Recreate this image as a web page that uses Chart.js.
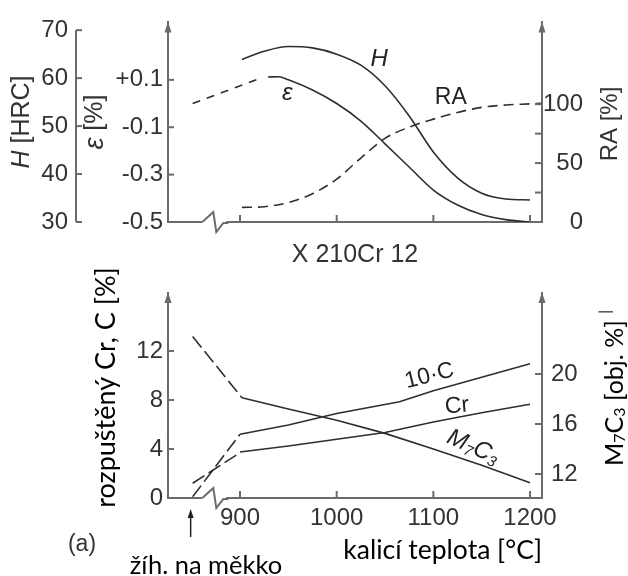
<!DOCTYPE html>
<html>
<head>
<meta charset="utf-8">
<script src="https://cdn.jsdelivr.net/npm/chart.js@4.4.0/dist/chart.umd.min.js"></script>
<style>
  html, body { margin: 0; padding: 0; background: #fff; }
  .box { position: absolute; left: 0; width: 628px; }
</style>
</head>
<body>
<div class="box" style="top:0;height:270px"><canvas id="topChart" width="628" height="270"></canvas></div>
<div class="box" style="top:260px;height:316px"><canvas id="bottomChart" width="628" height="316"></canvas></div>
<script>
// ==== Data: horni graf (X 210Cr 12) ====
const annealT = 851;          // stav "zih. na mekko" na prerusene ose
const breakT = 861;           // misto preruseni osy
const xTicks = [900, 1000, 1100, 1200];

const hTicks = [30, 40, 50, 60, 70];
const epsTicks = [-0.5, -0.3, -0.1, 0.1];
const raTicks = [0, 25, 50, 75, 100];

const hTemps = [902, 925, 950, 975, 1000, 1025, 1050, 1075, 1100, 1125, 1150, 1175, 1200];
const hValues = [63.9, 65.6, 66.6, 66.3, 65.0, 62.7, 58.4, 52.1, 44.6, 39.2, 36.0, 34.8, 34.6];

const epsDashTemps = [annealT, 922];
const epsDashValues = [0.0, 0.108];
const epsTemps = [929, 940, 950, 975, 1000, 1025, 1050, 1075, 1100, 1125, 1150, 1175, 1200];
const epsValues = [0.112, 0.113, 0.10, 0.057, 0.0, -0.074, -0.17, -0.268, -0.365, -0.428, -0.468, -0.49, -0.5];

const raTemps = [902, 925, 950, 975, 1000, 1025, 1050, 1075, 1100, 1125, 1150, 1175, 1200, 1212];
const raValues = [12.4, 13.0, 16.5, 24.0, 36.4, 54.3, 71.0, 80.5, 87.3, 93.0, 97.3, 99.3, 100.3, 100.8];

// ==== Data: dolni graf ====
const leftTicks = [0, 4, 8, 12];
const rightTicks = [12, 16, 20];

const cDashTemps = [annealT, 900];
const cDashValues = [0.1, 5.2];
const cTemps = [900, 950, 1000, 1065, 1100, 1150, 1200];
const cValues = [5.2, 5.95, 6.9, 7.85, 8.75, 9.85, 10.95];

const crDashTemps = [annealT, 900];
const crDashValues = [1.2, 3.7];
const crTemps = [900, 950, 1000, 1050, 1100, 1150, 1200];
const crValues = [3.75, 4.25, 4.8, 5.35, 6.2, 6.95, 7.65];

const mDashTemps = [annealT, 902];
const mDashValues = [23.0, 18.1];
const mTemps = [902, 950, 1000, 1050, 1100, 1150, 1200];
const mValues = [18.1, 17.2, 16.3, 15.25, 14.0, 12.7, 11.3];

// ==== Styl ====
const HELV = "'Liberation Sans', Arial, sans-serif";
const CALI = "Lato, 'Open Sans', sans-serif";
const LINE = '#2e2e2e';
const AXIS = '#6b6b6b';
const TEXT = '#333333';
const X_MIN = 825.5, X_MAX = 1212.4;

const pts = (xs, ys) => xs.map((x, i) => ({ x, y: ys[i] }));
const curve = (data, yAxisID, dash, smooth) => ({
    data, yAxisID,
    borderColor: LINE, borderWidth: 1.6, borderDash: dash || [],
    pointRadius: 0, fill: false,
    cubicInterpolationMode: smooth ? 'monotone' : 'default', tension: 0
});
const setTicks = list => s => { s.ticks = list.map(v => ({ value: v })); };
const noGrid = { display: false, drawTicks: false };

function drawRich(ctx, parts, x, y, rot) {
    let w = 0;
    parts.forEach(p => { ctx.font = p.font; p.w = ctx.measureText(p.t).width; w += p.w; });
    ctx.save();
    ctx.translate(x, y);
    ctx.rotate((rot || 0) * Math.PI / 180);
    ctx.textBaseline = 'middle';
    ctx.textAlign = 'left';
    let cx = -w / 2;
    parts.forEach(p => { ctx.font = p.font; ctx.fillText(p.t, cx, p.dy || 0); cx += p.w; });
    ctx.restore();
}

// ==== Plugin: vnitrni znacky, sipky, preruseni osy, popisky ====
const decor = {
    id: 'decor',
    afterDraw(chart, args, opts) {
        const ctx = chart.ctx;
        const area = chart.chartArea;
        const xs = chart.scales.x;
        ctx.save();
        ctx.strokeStyle = AXIS;
        ctx.fillStyle = AXIS;
        ctx.lineWidth = 2;

        // kratka osa (jen mezi krajnimi hodnotami)
        (opts.shortAxis || []).forEach(id => {
            const s = chart.scales[id];
            ctx.beginPath();
            ctx.moveTo(s.right, s.getPixelForValue(s.ticks[0].value));
            ctx.lineTo(s.right, s.getPixelForValue(s.ticks[s.ticks.length - 1].value));
            ctx.stroke();
        });

        // znacky smerem dovnitr
        (opts.inTicks || []).forEach(id => {
            const s = chart.scales[id];
            s.ticks.forEach(t => {
                const p = s.getPixelForValue(t.value);
                ctx.beginPath();
                if (s.isHorizontal()) { ctx.moveTo(p, s.top); ctx.lineTo(p, s.top - 7); }
                else if (s.position === 'left') { ctx.moveTo(s.right, p); ctx.lineTo(s.right + 6, p); }
                else { ctx.moveTo(s.left, p); ctx.lineTo(s.left - 7, p); }
                ctx.stroke();
            });
        });

        // sipky na koncich os
        [area.left, area.right].forEach(ax => {
            ctx.beginPath();
            ctx.moveTo(ax, area.top - 1);
            ctx.lineTo(ax - 3.5, area.top + 10);
            ctx.lineTo(ax + 3.5, area.top + 10);
            ctx.closePath();
            ctx.fill();
        });

        // preruseni osy x
        const bx = xs.getPixelForValue(breakT);
        const by = area.bottom;
        ctx.fillStyle = '#fff';
        ctx.fillRect(bx, by - 3, 24, 6);
        ctx.beginPath();
        ctx.moveTo(bx, by);
        ctx.lineTo(bx + 11, by - 10);
        ctx.lineTo(bx + 14, by + 10);
        ctx.lineTo(bx + 21, by + 1);
        ctx.lineTo(bx + 26, by + 1);
        ctx.stroke();

        // popisky krivek (v souradnicich dat)
        ctx.fillStyle = '#222';
        (opts.labels || []).forEach(l => {
            const px = xs.getPixelForValue(l.x);
            const py = chart.scales[l.axis].getPixelForValue(l.y);
            drawRich(ctx, l.parts, px, py, l.rot);
        });

        // nadpisy os a volne texty (v pixelech platna)
        (opts.titles || []).forEach(t => {
            ctx.fillStyle = t.color || '#000';
            drawRich(ctx, t.parts, t.x, t.y, t.rot);
        });
        (opts.notes || []).forEach(n => {
            ctx.fillStyle = n.color || '#000';
            ctx.font = n.font;
            ctx.textAlign = 'center';
            ctx.textBaseline = 'alphabetic';
            ctx.fillText(n.text, n.x, n.y);
        });

        // sipka "zih. na mekko"
        if (opts.annealArrow) {
            const ax = xs.getPixelForValue(annealT) - 2;
            ctx.strokeStyle = '#222';
            ctx.fillStyle = '#222';
            ctx.lineWidth = 1.5;
            ctx.beginPath();
            ctx.moveTo(ax, area.bottom + 39);
            ctx.lineTo(ax, area.bottom + 16);
            ctx.stroke();
            ctx.beginPath();
            ctx.moveTo(ax, area.bottom + 11);
            ctx.lineTo(ax - 3, area.bottom + 20);
            ctx.lineTo(ax + 3, area.bottom + 20);
            ctx.closePath();
            ctx.fill();
        }
        ctx.restore();
    }
};

const tickFont = { family: HELV, size: 24 };
const titleHelv = { family: HELV, size: 25 };
const itFont = "italic 24px " + HELV;
const helv = size => size + 'px ' + HELV;
const cali = size => size + 'px ' + CALI;

// ==== Horni graf ====
new Chart(document.getElementById('topChart'), {
    type: 'line',
    data: {
        datasets: [
            curve(pts(hTemps, hValues), 'yH', null, true),
            curve(pts(epsDashTemps, epsDashValues), 'yE', [8, 7]),
            curve(pts(epsTemps, epsValues), 'yE', null, true),
            curve(pts(raTemps, raValues), 'yRA', [10, 6], true)
        ]
    },
    options: {
        responsive: false,
        animation: false,
        layout: { padding: { top: 17, right: 45, left: 0, bottom: 0 } },
        plugins: {
            legend: { display: false },
            tooltip: { enabled: false },
            decor: {
                shortAxis: ['yH'],
                inTicks: ['x', 'yH', 'yE', 'yRA'],
                labels: [
                    { parts: [{ t: 'H', font: itFont }], x: 1044, y: 63.9, axis: 'yH' },
                    { parts: [{ t: 'RA', font: helv(23) }], x: 1118, y: 105.8, axis: 'yRA' },
                    { parts: [{ t: 'ε', font: itFont }], x: 949, y: 0.045, axis: 'yE' }
                ],
                titles: [
                    { parts: [{ t: 'H', font: 'italic 25px ' + HELV }, { t: ' [HRC]', font: helv(25) }],
                      x: 22, y: 122, rot: -90, color: TEXT },
                    { parts: [{ t: 'ε', font: 'italic 27px ' + HELV }, { t: ' [%]', font: helv(25) }],
                      x: 95, y: 122, rot: -90, color: TEXT },
                    { parts: [{ t: 'RA [%]', font: helv(24) }], x: 610, y: 124, rot: -90, color: TEXT }
                ]
            }
        },
        scales: {
            x: {
                type: 'linear', position: 'bottom', min: X_MIN, max: X_MAX,
                afterBuildTicks: setTicks(xTicks),
                afterFit: s => { s.height = 48; },
                grid: noGrid,
                border: { color: AXIS, width: 2 },
                ticks: { display: false },
                title: { display: true, text: 'X 210Cr 12', color: TEXT, font: titleHelv, padding: 0 }
            },
            yH: {
                type: 'linear', position: 'left', weight: 1, min: 30, max: 71.62,
                afterBuildTicks: setTicks(hTicks),
                afterFit: s => { s.width = 76; },
                grid: noGrid,
                border: { display: false },
                ticks: { color: TEXT, font: tickFont, padding: 8, autoSkip: false },
                title: { display: false }
            },
            yE: {
                type: 'linear', position: 'left', weight: 0, min: -0.5, max: 0.3425,
                afterBuildTicks: setTicks(epsTicks),
                afterFit: s => { s.width = 92; },
                grid: noGrid,
                border: { color: AXIS, width: 2 },
                ticks: {
                    color: TEXT, font: tickFont, padding: 5, autoSkip: false,
                    callback: v => (v > 0 ? '+' : '') + v.toFixed(1)
                },
                title: { display: false }
            },
            yRA: {
                type: 'linear', position: 'right', min: 0, max: 169.4,
                afterBuildTicks: setTicks(raTicks),
                afterFit: s => { s.width = 41; },
                grid: noGrid,
                border: { color: AXIS, width: 2 },
                ticks: {
                    color: TEXT, font: tickFont, padding: 3, autoSkip: false, crossAlign: 'far',
                    callback: v => (v % 50 === 0 ? String(v) : '')
                },
                title: { display: false }
            }
        }
    },
    plugins: [decor]
});

// ==== Dolni graf ====
new Chart(document.getElementById('bottomChart'), {
    type: 'line',
    data: {
        datasets: [
            curve(pts(cDashTemps, cDashValues), 'yL', [14, 5]),
            curve(pts(cTemps, cValues), 'yL'),
            curve(pts(crDashTemps, crDashValues), 'yL', [14, 5]),
            curve(pts(crTemps, crValues), 'yL'),
            curve(pts(mDashTemps, mDashValues), 'yR', [14, 5]),
            curve(pts(mTemps, mValues), 'yR')
        ]
    },
    options: {
        responsive: false,
        animation: false,
        layout: { padding: { top: 33, right: 0, left: 0, bottom: 0 } },
        plugins: {
            legend: { display: false },
            tooltip: { enabled: false },
            decor: {
                inTicks: ['x', 'yL', 'yR'],
                annealArrow: true,
                labels: [
                    { parts: [{ t: '10·C', font: helv(23) }], x: 1096, y: 9.96, axis: 'yL', rot: -14 },
                    { parts: [{ t: 'Cr', font: helv(23) }], x: 1124.5, y: 7.5, axis: 'yL', rot: -5 },
                    {
                        parts: [
                            { t: 'M', font: itFont },
                            { t: '7', font: 'italic 15px ' + HELV, dy: 6 },
                            { t: 'C', font: itFont },
                            { t: '3', font: 'italic 15px ' + HELV, dy: 6 }
                        ],
                        x: 1141, y: 4.16, axis: 'yL', rot: 24
                    }
                ],
                titles: [
                    { parts: [{ t: 'rozpuštěný Cr, C [%]', font: cali(27) }], x: 106, y: 127.5, rot: -90 },
                    {
                        parts: [
                            { t: 'M', font: cali(25) },
                            { t: '7', font: cali(16), dy: 5 },
                            { t: 'C', font: cali(25) },
                            { t: '3', font: cali(16), dy: 5 },
                            { t: ' [obj. %] ', font: cali(25) },
                            { t: '|', font: cali(15), dy: -10 }
                        ],
                        x: 615, y: 128, rot: -90
                    }
                ],
                notes: [
                    { text: '(a)', font: helv(23), color: TEXT, x: 82, y: 291 },
                    { text: 'žíh. na měkko', font: cali(25.5), x: 206, y: 314 }
                ]
            }
        },
        scales: {
            x: {
                type: 'linear', position: 'bottom', min: X_MIN, max: X_MAX,
                afterBuildTicks: setTicks(xTicks),
                afterFit: s => { s.height = 78; },
                grid: noGrid,
                border: { color: AXIS, width: 2 },
                ticks: {
                    color: TEXT, font: tickFont, padding: 6, autoSkip: false, maxRotation: 0,
                    callback: v => String(v)
                },
                title: {
                    display: true, text: 'kalicí teplota [°C]', color: '#000',
                    font: { family: CALI, size: 26.5 }, align: 'end', padding: { bottom: 10 }
                }
            },
            yL: {
                type: 'linear', position: 'left', min: 0, max: 16.73,
                afterBuildTicks: setTicks(leftTicks),
                afterFit: s => { s.width = 168; },
                grid: noGrid,
                border: { color: AXIS, width: 2 },
                ticks: { color: TEXT, font: tickFont, padding: 5, autoSkip: false },
                title: { display: false }
            },
            yR: {
                type: 'linear', position: 'right', min: 10.08, max: 26.48,
                afterBuildTicks: setTicks(rightTicks),
                afterFit: s => { s.width = 86; },
                grid: noGrid,
                border: { color: AXIS, width: 2 },
                ticks: { color: TEXT, font: tickFont, padding: 9, autoSkip: false },
                title: { display: false }
            }
        }
    },
    plugins: [decor]
});
</script>
</body>
</html>
